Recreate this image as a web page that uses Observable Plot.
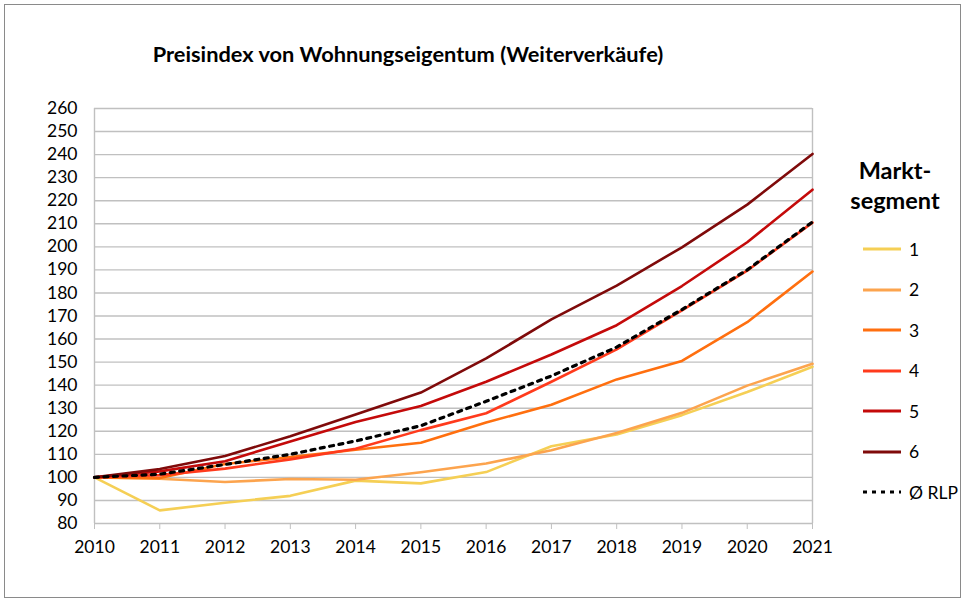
<!DOCTYPE html>
<html>
<head>
<meta charset="utf-8">
<script src="https://cdn.jsdelivr.net/npm/d3@7"></script>
<script src="https://cdn.jsdelivr.net/npm/@observablehq/plot@0.6"></script>
<style>
  html, body { margin: 0; padding: 0; background: #fff; }
  #wrap { position: relative; width: 965px; height: 603px; font-family: Lato, "Open Sans", sans-serif; color: #000; }
  #frame { position: absolute; left: 4px; top: 4px; width: 955px; height: 592px; border: 1px solid #8a8a8a; pointer-events: none; }
  #chart { position: absolute; left: 0; top: 0; }
  #title { position: absolute; left: 0; width: 816px; top: 40px; text-align: center; font-weight: bold; font-size: 21.8px; }
  #legend-title { position: absolute; left: 835px; width: 120px; top: 155px; text-align: center; font-weight: bold; font-size: 23.5px; line-height: 30px; }
  .leg { position: absolute; left: 862px; height: 20px; display: flex; align-items: center; font-size: 17.5px; }
  .leg svg { display: block; margin-right: 7px; }
</style>
</head>
<body>
<div id="wrap">
  <div id="chart"></div>
  <div id="title">Preisindex von Wohnungseigentum (Weiterverkäufe)</div>
  <div id="legend-title">Markt-<br>segment</div>
  <div id="legend"></div>
  <div id="frame"></div>
</div>
<script>
const years = [2010, 2011, 2012, 2013, 2014, 2015, 2016, 2017, 2018, 2019, 2020, 2021];
const yTicks = [80, 90, 100, 110, 120, 130, 140, 150, 160, 170, 180, 190, 200, 210, 220, 230, 240, 250, 260];

const segment1 = [100, 85.7, 89.0, 92.0, 98.6, 97.4, 102.3, 113.5, 118.6, 127.0, 137.0, 148.0];
const segment2 = [100, 99.4, 98.0, 99.3, 99.0, 102.2, 106.0, 111.8, 119.3, 128.0, 139.8, 149.3];
const segment3 = [100, 99.7, 105.8, 108.8, 112.0, 115.0, 123.8, 131.5, 142.5, 150.5, 167.3, 189.3];
const segment4 = [100, 101.0, 103.8, 107.8, 112.4, 120.5, 127.8, 141.5, 155.5, 172.4, 189.7, 210.5];
const segment5 = [100, 102.6, 107.0, 115.6, 124.0, 131.0, 141.5, 153.3, 166.0, 183.0, 202.0, 224.8];
const segment6 = [100, 103.6, 109.3, 117.8, 127.3, 136.8, 151.6, 168.5, 183.2, 199.8, 218.3, 240.3];
const rlp      = [100, 101.4, 105.6, 110.0, 115.8, 122.4, 133.0, 144.0, 156.5, 172.8, 190.0, 210.8];

const seriesNames = ["1", "2", "3", "4", "5", "6"];
const seriesColors = ["#F5CF55", "#FCA44E", "#FF6F0F", "#FF3A1C", "#C40A0A", "#7F0A0A"];
const seriesValues = [segment1, segment2, segment3, segment4, segment5, segment6];
const avgName = "Ø RLP";

const lineData = seriesNames.flatMap((name, k) =>
  years.map((year, i) => ({ year, value: seriesValues[k][i], name })));
const avgData = years.map((year, i) => ({ year, value: rlp[i], name: avgName }));

const chart = Plot.plot({
  width: 965,
  height: 603,
  marginLeft: 94,
  marginRight: 153,
  marginTop: 108,
  marginBottom: 80,
  style: { fontFamily: "Lato, 'Open Sans', sans-serif", fontSize: "17.5px", color: "#000", background: "transparent" },
  x: { domain: [2010, 2021], label: null },
  y: { domain: [80, 260], label: null },
  color: { domain: seriesNames, range: seriesColors },
  marks: [
    Plot.ruleY(yTicks, { y: d => d, stroke: "#c0c0c0", strokeWidth: 1.4 }),
    Plot.ruleX([2010, 2021], { x: d => d, stroke: "#c0c0c0", strokeWidth: 1.4 }),
    Plot.axisY({ ticks: yTicks, tickSize: 0, tickPadding: 17, label: null, fill: "#000" }),
    Plot.axisX({ ticks: years, tickFormat: d => String(d), tickSize: 6, tickPadding: 11, stroke: "#c0c0c0", fill: "#000", label: null }),
    Plot.line(lineData, { x: "year", y: "value", z: "name", stroke: "name", strokeWidth: 2.6, strokeLinejoin: "round" }),
    Plot.line(avgData, { x: "year", y: "value", stroke: "#000", strokeWidth: 3.2, strokeDasharray: "4,5.5" })
  ]
});
document.getElementById("chart").appendChild(chart);

// legend
const legend = document.getElementById("legend");
const legendItems = seriesNames.map((n, k) => ({ label: n, color: seriesColors[k], dash: null }))
  .concat([{ label: avgName, color: "#000", dash: "4,5" }]);
legendItems.forEach((it, k) => {
  const div = document.createElement("div");
  div.className = "leg";
  div.style.top = (239 + k * 40.5) + "px";
  const ns = "http://www.w3.org/2000/svg";
  const svg = document.createElementNS(ns, "svg");
  svg.setAttribute("width", 40);
  svg.setAttribute("height", 20);
  const ln = document.createElementNS(ns, "line");
  ln.setAttribute("x1", 1); ln.setAttribute("x2", 39);
  ln.setAttribute("y1", 10); ln.setAttribute("y2", 10);
  ln.setAttribute("stroke", it.color);
  ln.setAttribute("stroke-width", it.dash ? 3.2 : 2.8);
  if (it.dash) ln.setAttribute("stroke-dasharray", it.dash);
  svg.appendChild(ln);
  div.appendChild(svg);
  const sp = document.createElement("span");
  sp.textContent = it.label;
  div.appendChild(sp);
  legend.appendChild(div);
});
</script>
</body>
</html>
